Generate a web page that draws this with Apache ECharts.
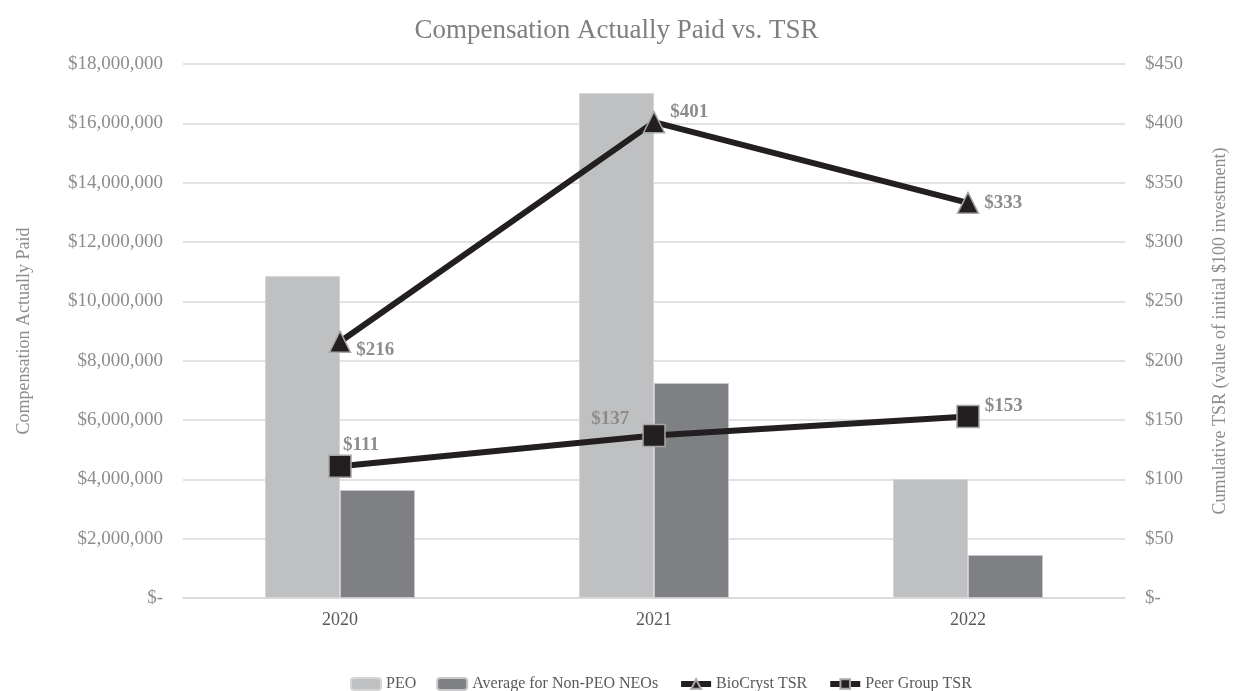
<!DOCTYPE html>
<html>
<head>
<meta charset="utf-8">
<script src="https://cdn.jsdelivr.net/npm/echarts@6/dist/echarts.min.js"></script>
<style>html,body{margin:0;padding:0;background:#fff}#c{width:1233px;height:691px}</style>
</head>
<body>
<div id="c"></div>
<script>
const categories = ['2020', '2021', '2022'];
const peo = [10850000, 17020000, 4010000];
const nonPeo = [3640000, 7250000, 1450000];
const bioTsr = [216, 401, 333];
const peerTsr = [111, 137, 153];
const leftTicks = ['$-', '$2,000,000', '$4,000,000', '$6,000,000', '$8,000,000', '$10,000,000', '$12,000,000', '$14,000,000', '$16,000,000', '$18,000,000'];
const rightTicks = ['$-', '$50', '$100', '$150', '$200', '$250', '$300', '$350', '$400', '$450'];

const font = '"Liberation Serif", "Times New Roman", serif';
const gray = '#8c8c8c';
const chart = echarts.init(document.getElementById('c'));
const bioLabelPos = [
  {position: 'right', offset: [0, 8]},
  {position: 'right', offset: [0, -10]},
  {position: 'right', offset: [0, 0]}
];
const peerLabelPos = [
  {position: 'top', offset: [21, 5]},
  {position: 'left', offset: [-8, -16]},
  {position: 'right', offset: [0, -10]}
];
chart.setOption({
  animation: false,
  textStyle: {fontFamily: font},
  title: {
    text: 'Compensation Actually Paid vs. TSR',
    left: 'center', top: 12,
    textStyle: {fontFamily: font, fontSize: 27, fontWeight: 'normal', color: '#7f7f7f'}
  },
  grid: {left: 183, right: 108, top: 64, bottom: 93, outerBoundsMode: 'none'},
  legend: {
    bottom: -6, left: 345, itemGap: 20, itemWidth: 30, itemHeight: 12,
    textStyle: {fontFamily: font, fontSize: 16, color: '#595959'},
    lineStyle: {width: 6},
    data: ['PEO', 'Average for Non-PEO NEOs', 'BioCryst TSR', 'Peer Group TSR']
  },
  xAxis: {
    type: 'category', data: categories,
    axisLine: {lineStyle: {color: '#d9d9d9', width: 1.5}},
    axisTick: {show: false},
    axisLabel: {color: '#595959', fontSize: 18, fontFamily: font, margin: 13}
  },
  yAxis: [{
    type: 'value', min: 0, max: 18000000, interval: 2000000,
    name: 'Compensation Actually Paid', nameLocation: 'middle', nameGap: 150, nameRotate: 90,
    nameTextStyle: {color: gray, fontSize: 18, fontFamily: font},
    axisLabel: {color: gray, fontSize: 19, fontFamily: font, margin: 20,
      formatter: (v) => leftTicks[Math.round(v / 2000000)]},
    splitLine: {lineStyle: {color: '#d9d9d9', width: 1.5}},
    axisLine: {show: false}, axisTick: {show: false}
  }, {
    type: 'value', min: 0, max: 450, interval: 50,
    name: 'Cumulative TSR (value of initial $100 investment)', nameLocation: 'middle', nameGap: 86, nameRotate: 90,
    nameTextStyle: {color: gray, fontSize: 18, fontFamily: font},
    axisLabel: {color: gray, fontSize: 19, fontFamily: font, margin: 20,
      formatter: (v) => rightTicks[Math.round(v / 50)]},
    splitLine: {show: false},
    axisLine: {show: false}, axisTick: {show: false}
  }],
  series: [{
    name: 'PEO', type: 'bar', data: peo, barWidth: 75, barGap: '0%',
    itemStyle: {color: '#bfc0c2', borderColor: '#d6d6d8', borderWidth: 1}
  }, {
    name: 'Average for Non-PEO NEOs', type: 'bar', data: nonPeo, barWidth: 75,
    itemStyle: {color: '#7f8083', borderColor: '#c8c8ca', borderWidth: 1}
  }, {
    name: 'BioCryst TSR', type: 'line', yAxisIndex: 1,
    data: bioTsr.map((v, i) => ({value: v, label: bioLabelPos[i]})),
    symbol: 'triangle', symbolSize: 21,
    lineStyle: {color: '#231f20', width: 6},
    itemStyle: {color: '#231f20', borderColor: '#a6a6a6', borderWidth: 1.5},
    label: {show: true, formatter: (p) => '$' + p.value, color: gray, fontWeight: 'bold', fontSize: 19, fontFamily: font},
    z: 5
  }, {
    name: 'Peer Group TSR', type: 'line', yAxisIndex: 1,
    data: peerTsr.map((v, i) => ({value: v, label: peerLabelPos[i]})),
    symbol: 'rect', symbolSize: 22,
    lineStyle: {color: '#231f20', width: 6},
    itemStyle: {color: '#231f20', borderColor: '#a6a6a6', borderWidth: 1.5},
    label: {show: true, formatter: (p) => '$' + p.value, color: gray, fontWeight: 'bold', fontSize: 19, fontFamily: font},
    z: 5
  }]
});
</script>
</body>
</html>
